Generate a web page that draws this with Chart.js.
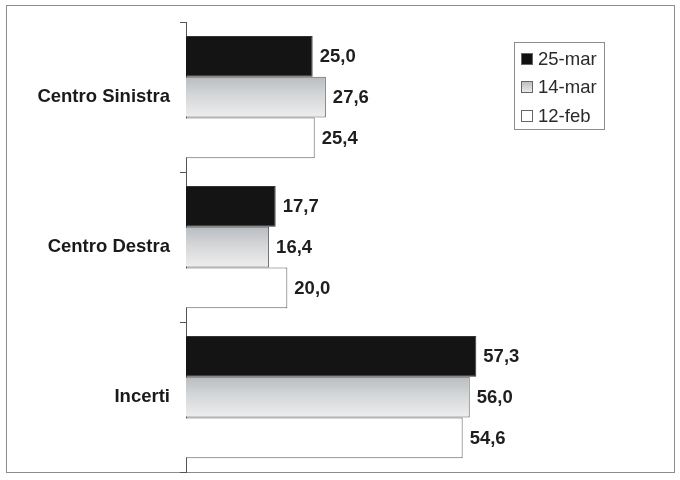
<!DOCTYPE html>
<html>
<head>
<meta charset="utf-8">
<script src="https://cdn.jsdelivr.net/npm/chart.js@4"></script>
<style>
  html, body { margin: 0; padding: 0; background: #fff; }
  #wrap { width: 680px; height: 480px; }
</style>
</head>
<body>
<div id="wrap"><canvas id="pollChart" width="680" height="480"></canvas></div>
<script>
// categorie e serie
const categories = ['Centro Sinistra', 'Centro Destra', 'Incerti'];
const seriesNames = ['25-mar', '14-mar', '12-feb'];
const mar25 = [25.0, 17.7, 57.3];
const mar14 = [27.6, 16.4, 56.0];
const feb12 = [25.4, 20.0, 54.6];
const xMax = 90;

const FONT = "'Liberation Sans', Arial, sans-serif";

// sfumatura grigia per la serie 14-mar, calcolata sulla barra
function grayFill(ctx) {
    const chart = ctx.chart;
    const area = chart.chartArea;
    if (!area) {
        return '#d8d8d8';
    }
    const yScale = chart.scales.y;
    const band = (area.bottom - area.top) / categories.length;
    const h = band * 0.815 / 3;
    const cy = yScale.getPixelForValue(ctx.dataIndex);
    const g = chart.ctx.createLinearGradient(0, cy - h / 2, 0, cy + h / 2);
    g.addColorStop(0, '#b8bcc0');
    g.addColorStop(0.45, '#d4d6d8');
    g.addColorStop(1, '#eeeeee');
    return g;
}

function fmt(v) {
    return v.toFixed(1).replace('.', ',');
}

const framePlugin = {
    id: 'frame',
    beforeDraw(chart) {
        const c = chart.ctx;
        c.save();
        c.fillStyle = '#fff';
        c.fillRect(0, 0, chart.width, chart.height);
        c.strokeStyle = '#8c8c8c';
        c.lineWidth = 1;
        c.strokeRect(6.5, 5.5, 668, 467);
        c.restore();
    }
};

const valueLabels = {
    id: 'valueLabels',
    afterDatasetsDraw(chart) {
        const c = chart.ctx;
        c.save();
        c.font = 'bold 18.5px ' + FONT;
        c.fillStyle = '#1e1e1e';
        c.textAlign = 'left';
        c.textBaseline = 'middle';
        chart.data.datasets.forEach(function(ds, di) {
            chart.getDatasetMeta(di).data.forEach(function(bar, i) {
                c.fillText(fmt(ds.data[i]), bar.x + 7, bar.y + 1);
            });
        });
        c.restore();
    }
};

const boxLegend = {
    id: 'boxLegend',
    afterDraw(chart) {
        const c = chart.ctx;
        c.save();
        c.strokeStyle = '#8c8c8c';
        c.lineWidth = 1;
        c.strokeRect(514.5, 42.5, 90, 87);
        c.font = '18.5px ' + FONT;
        c.textBaseline = 'middle';
        const rows = [59, 87, 116];
        chart.data.datasets.forEach(function(ds, i) {
            const y = rows[i];
            if (i == 0) {
                c.fillStyle = '#111';
            } else if (i == 1) {
                const g = c.createLinearGradient(0, y - 6, 0, y + 6);
                g.addColorStop(0, '#b8bcc0');
                g.addColorStop(1, '#eeeeee');
                c.fillStyle = g;
            } else {
                c.fillStyle = '#fff';
            }
            c.fillRect(521, y - 6, 11, 12);
            c.strokeStyle = '#666';
            c.strokeRect(521.5, y - 5.5, 11, 11);
            c.fillStyle = '#2a2a2a';
            c.fillText(ds.label, 538, y + 1);
        });
        c.restore();
    }
};

const data = {
    labels: categories,
    datasets: [
        {
            label: seriesNames[0],
            data: mar25,
            backgroundColor: '#141414',
            borderColor: '#333',
            borderWidth: 1
        },
        {
            label: seriesNames[1],
            data: mar14,
            backgroundColor: grayFill,
            borderColor: '#5c5c5c',
            borderWidth: 1
        },
        {
            label: seriesNames[2],
            data: feb12,
            backgroundColor: '#fff',
            borderColor: '#5c5c5c',
            borderWidth: 1
        }
    ]
};

const config = {
    type: 'bar',
    data: data,
    options: {
        indexAxis: 'y',
        responsive: false,
        animation: false,
        categoryPercentage: 0.815,
        barPercentage: 1.0,
        layout: {
            padding: { top: 22, bottom: 8, left: 0, right: 38 }
        },
        plugins: {
            legend: { display: false },
            tooltip: { enabled: false },
            title: { display: false }
        },
        scales: {
            x: {
                display: false,
                min: 0,
                max: xMax
            },
            y: {
                grid: {
                    display: true,
                    drawOnChartArea: false,
                    offset: true,
                    tickLength: 6,
                    color: '#555'
                },
                border: {
                    display: true,
                    color: '#555',
                    width: 1
                },
                ticks: {
                    padding: 10,
                    color: '#1a1a1a',
                    font: { family: FONT, size: 18.5, weight: 'bold' }
                },
                afterFit(scale) {
                    scale.width = 186;
                    scale.paddingTop = 0;
                    scale.paddingBottom = 0;
                }
            }
        }
    },
    plugins: [framePlugin, valueLabels, boxLegend]
};

var chart = new Chart('pollChart', config);
</script>
</body>
</html>
